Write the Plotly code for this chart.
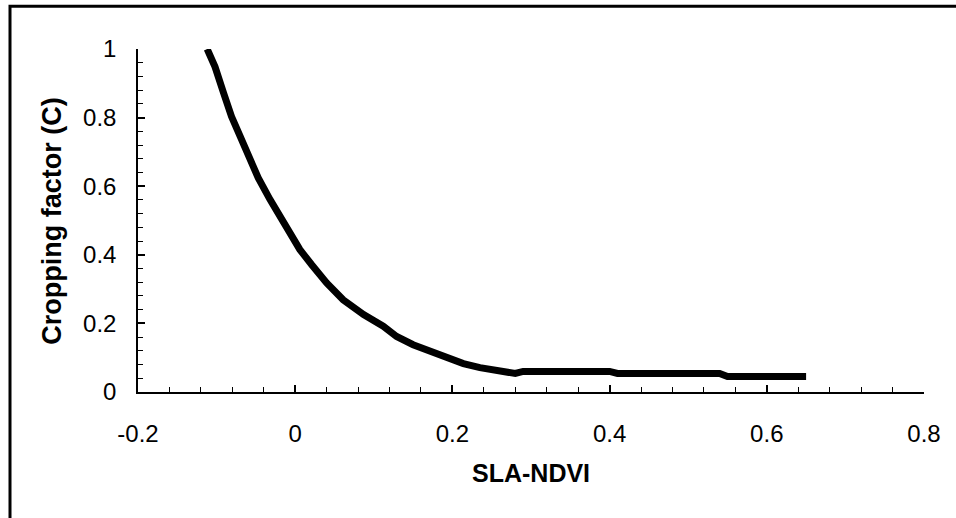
import plotly.graph_objects as go

# SLA-NDVI values (x) and cropping factor C (y)
sla_ndvi = [-0.112, -0.102, -0.091, -0.081, -0.070, -0.059, -0.047, -0.032, -0.019,
            -0.011, 0.006, 0.021, 0.040, 0.061, 0.087, 0.112, 0.129, 0.150, 0.172,
            0.193, 0.214, 0.235, 0.257, 0.280, 0.290, 0.30, 0.32, 0.34, 0.36, 0.38,
            0.40, 0.41, 0.43, 0.45, 0.47, 0.49, 0.51, 0.53, 0.54, 0.55, 0.57, 0.59,
            0.61, 0.63, 0.65]
crop_c = [1.000, 0.948, 0.871, 0.803, 0.745, 0.686, 0.624, 0.561, 0.512,
          0.473, 0.415, 0.371, 0.318, 0.269, 0.226, 0.192, 0.162, 0.138, 0.119,
          0.100, 0.083, 0.071, 0.064, 0.054, 0.060, 0.060, 0.060, 0.060, 0.060, 0.060,
          0.060, 0.054, 0.054, 0.054, 0.054, 0.054, 0.054, 0.054, 0.054, 0.045, 0.045, 0.045,
          0.045, 0.045, 0.045]

x_ticks = [-0.2, 0, 0.2, 0.4, 0.6, 0.8]
x_ticklabels = ["-0.2", "0", "0.2", "0.4", "0.6", "0.8"]
y_ticks = [0, 0.2, 0.4, 0.6, 0.8, 1]
y_ticklabels = ["0", "0.2", "0.4", "0.6", "0.8", "1"]

FONT = "Liberation Sans, Arial, sans-serif"

fig = go.Figure()
fig.add_trace(go.Scatter(x=sla_ndvi, y=crop_c, mode="lines",
                         line=dict(color="black", width=7),
                         showlegend=False, hoverinfo="skip"))

L, R, T, B = 138, 32, 49, 125.5
W, H = 956, 518
pw, ph = W - L - R, H - T - B

fig.update_layout(
    width=W, height=H,
    margin=dict(l=L, r=R, t=T, b=B, pad=0),
    paper_bgcolor="white", plot_bgcolor="white",
    font=dict(family=FONT, color="black", size=22),
    xaxis=dict(range=[-0.2, 0.8], tickvals=x_ticks, ticktext=x_ticklabels,
               showgrid=False, zeroline=False, showline=True, linecolor="black",
               linewidth=1.5, ticks="inside", ticklen=7, tickcolor="black",
               tickwidth=1.5, ticklabelstandoff=19,
               minor=dict(dtick=0.04, tick0=-0.2, ticks="inside", ticklen=5,
                          tickcolor="black", tickwidth=1.2, showgrid=False),
               tickfont=dict(size=24, family=FONT)),
    yaxis=dict(range=[0, 1], tickvals=y_ticks, ticktext=y_ticklabels,
               showgrid=False, zeroline=False, showline=True, linecolor="black",
               linewidth=1.5, ticks="inside", ticklen=7, tickcolor="black",
               tickwidth=1.5, ticklabelstandoff=15,
               minor=dict(dtick=0.04, tick0=0, ticks="inside", ticklen=5,
                          tickcolor="black", tickwidth=1.2, showgrid=False),
               tickfont=dict(size=24, family=FONT)),
    annotations=[
        dict(text="<b>SLA-NDVI</b>", xref="paper", yref="paper",
             x=0.5, y=(T + ph - 474) / ph, xanchor="center", yanchor="middle",
             showarrow=False, font=dict(size=25, family=FONT)),
        dict(text="<b>Cropping factor (C)</b>", xref="paper", yref="paper",
             x=(52 - L) / pw, y=(T + ph - 222) / ph, xanchor="center", yanchor="middle",
             textangle=-90, showarrow=False, font=dict(size=27, family=FONT)),
    ],
    shapes=[
        dict(type="rect", xref="paper", yref="paper",
             x0=(10 - L) / pw, x1=1.2, y0=-0.6, y1=(T + ph - 6.2) / ph,
             line=dict(color="black", width=3), fillcolor="rgba(0,0,0,0)",
             layer="above"),
    ],
)

fig.write_html("out.html", config={"displayModeBar": False},
               post_script="document.body.style.margin='0';document.body.style.overflow='hidden';")
